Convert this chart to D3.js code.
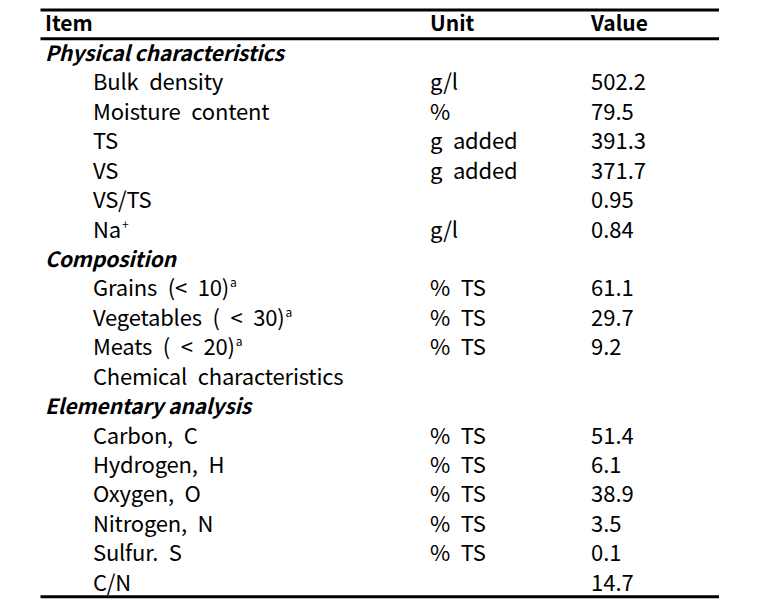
<!DOCTYPE html>
<html>
<head>
<meta charset="utf-8">
<script src="https://cdn.jsdelivr.net/npm/d3@7"></script>
<style>
  html, body { margin: 0; padding: 0; background: #fff; }
  svg { display: block; }
</style>
</head>
<body>
<svg id="chart" width="760" height="609"></svg>
<script>
// ---- data ----
const headers = ["Item", "Unit", "Value"];
const rowKinds = ["section", "item", "item", "item", "item", "item", "item",
  "section", "item", "item", "item", "item",
  "section", "item", "item", "item", "item", "item", "item"];
const rowLabels = ["Physical characteristics", "Bulk density", "Moisture content", "TS", "VS", "VS/TS", "Na",
  "Composition", "Grains (< 10)", "Vegetables ( < 30)", "Meats ( < 20)", "Chemical characteristics",
  "Elementary analysis", "Carbon, C", "Hydrogen, H", "Oxygen, O", "Nitrogen, N", "Sulfur. S", "C/N"];
const rowSup = ["", "", "", "", "", "", "+",
  "", "a", "a", "a", "",
  "", "", "", "", "", "", ""];
const rowUnits = ["", "g/l", "%", "g added", "g added", "", "g/l",
  "", "% TS", "% TS", "% TS", "",
  "", "% TS", "% TS", "% TS", "% TS", "% TS", ""];
const rowValues = ["", "502.2", "79.5", "391.3", "371.7", "0.95", "0.84",
  "", "61.1", "29.7", "9.2", "",
  "", "51.4", "6.1", "38.9", "3.5", "0.1", "14.7"];

// ---- layout ----
const svg = d3.select("#chart");
const font = "'Noto Sans CJK KR', 'Noto Sans', sans-serif";
const fsBold = 21;
const fsReg = 22;

const x = d3.scaleOrdinal().domain(["header", "section", "item", "unit", "value", "left", "right"])
  .range([45, 45, 93, 430, 591, 40.5, 719]);
const y = d3.scalePoint().domain(d3.range(rowLabels.length)).range([61, 590.7]);

// rules
const rules = [10, 38.7, 596.7];
svg.selectAll("line.rule").data(rules).join("line")
  .attr("class", "rule")
  .attr("x1", x("left")).attr("x2", x("right"))
  .attr("y1", d => d).attr("y2", d => d)
  .attr("stroke", "#000").attr("stroke-width", 3);

// header
const headerX = [x("header"), x("unit"), x("value")];
svg.selectAll("text.hdr").data(headers).join("text")
  .attr("class", "hdr")
  .attr("x", (d, i) => headerX[i]).attr("y", 30.5)
  .attr("font-family", font).attr("font-size", fsBold).attr("font-weight", "bold")
  .attr("fill", "#000")
  .text(d => d);

// rows
const rows = svg.selectAll("g.row").data(rowLabels.map((l, i) => i)).join("g")
  .attr("class", "row")
  .attr("transform", i => `translate(0,${y(i)})`);

const isSec = i => rowKinds[i] === "section";
const lab = rows.append("text")
  .attr("x", i => x(rowKinds[i]))
  .attr("font-family", font)
  .attr("font-size", i => isSec(i) ? fsBold : fsReg)
  .attr("font-weight", i => isSec(i) ? "bold" : "normal")
  .attr("font-style", i => isSec(i) ? "italic" : "normal")
  .attr("word-spacing", i => isSec(i) ? 0 : 6)
  .attr("letter-spacing", i => isSec(i) ? -0.15 : -0.2)
  .attr("fill", "#000");
lab.append("tspan").text(i => rowLabels[i]);
lab.filter(i => rowSup[i]).append("tspan")
  .attr("dy", -9).attr("font-size", 12).attr("dx", 1)
  .text(i => rowSup[i]);

rows.append("text")
  .attr("x", x("unit"))
  .attr("font-family", font).attr("font-size", fsReg)
  .attr("word-spacing", 6).attr("letter-spacing", -0.2)
  .attr("fill", "#000")
  .text(i => rowUnits[i]);

rows.append("text")
  .attr("x", x("value"))
  .attr("font-family", font).attr("font-size", fsReg)
  .attr("fill", "#000")
  .text(i => rowValues[i]);
</script>
</body>
</html>
